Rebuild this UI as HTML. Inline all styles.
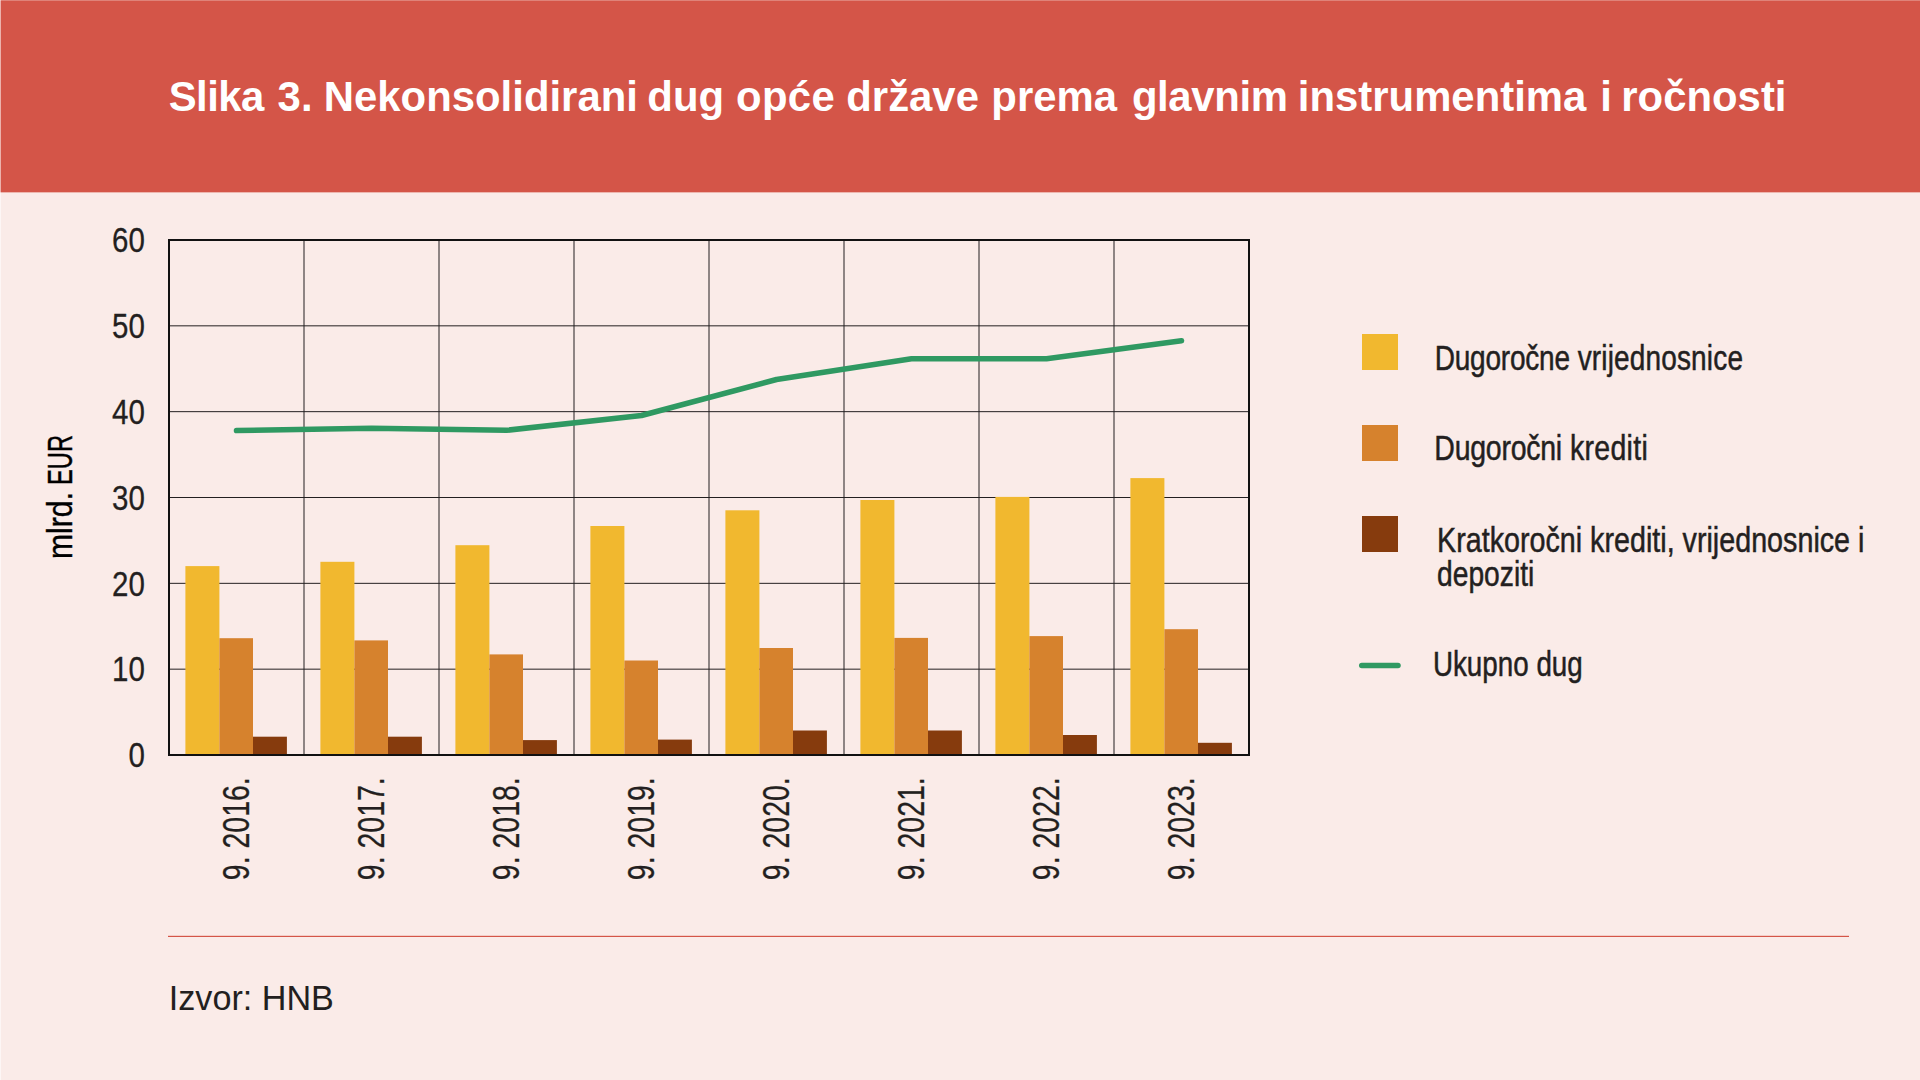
<!DOCTYPE html>
<html lang="hr"><head><meta charset="utf-8"><title>Slika 3</title>
<style>html,body{margin:0;padding:0;background:#faebe8;}body{width:1920px;height:1080px;overflow:hidden;}svg{display:block;}text{font-family:"Liberation Sans",Arial,Helvetica,sans-serif;}</style></head><body>
<svg width="1920" height="1080" viewBox="0 0 1920 1080">
<rect x="0" y="0" width="1920" height="1080" fill="#faebe8"/>
<rect x="0" y="0" width="1920" height="192.35" fill="#d45548"/>
<text id="title" transform="translate(167.9,111) scale(0.974,1)" font-size="43" font-weight="700" fill="#ffffff" xml:space="preserve"><tspan dx="0.82" letter-spacing="-0.53">Slika </tspan><tspan dx="2.67">3. </tspan><tspan dx="-0.41">Nekonsolidirani </tspan><tspan dx="-2.26">dug </tspan><tspan dx="0.21" letter-spacing="0.40">opće </tspan><tspan dx="-1.03">države </tspan><tspan dx="0.82">prema </tspan><tspan dx="3.29" letter-spacing="-0.38">glavnim </tspan><tspan dx="-1.03">instrumentima </tspan><tspan dx="2.26">i </tspan><tspan dx="-2.26">ročnosti</tspan></text>
<g stroke="#231f20" stroke-width="1" fill="none"><line x1="169.00" y1="325.83" x2="1249.00" y2="325.83"/><line x1="169.00" y1="411.67" x2="1249.00" y2="411.67"/><line x1="169.00" y1="497.50" x2="1249.00" y2="497.50"/><line x1="169.00" y1="583.33" x2="1249.00" y2="583.33"/><line x1="169.00" y1="669.17" x2="1249.00" y2="669.17"/><line x1="304.00" y1="240.00" x2="304.00" y2="755.00"/><line x1="439.00" y1="240.00" x2="439.00" y2="755.00"/><line x1="574.00" y1="240.00" x2="574.00" y2="755.00"/><line x1="709.00" y1="240.00" x2="709.00" y2="755.00"/><line x1="844.00" y1="240.00" x2="844.00" y2="755.00"/><line x1="979.00" y1="240.00" x2="979.00" y2="755.00"/><line x1="1114.00" y1="240.00" x2="1114.00" y2="755.00"/></g>
<g><rect x="185.40" y="566.10" width="34.00" height="188.90" fill="#f1b82f"/><rect x="219.40" y="638.20" width="33.60" height="116.80" fill="#d6822d"/><rect x="253.00" y="736.70" width="33.90" height="18.30" fill="#863b0d"/><rect x="320.40" y="561.80" width="34.00" height="193.20" fill="#f1b82f"/><rect x="354.40" y="640.40" width="33.60" height="114.60" fill="#d6822d"/><rect x="388.00" y="736.70" width="33.90" height="18.30" fill="#863b0d"/><rect x="455.40" y="545.20" width="34.00" height="209.80" fill="#f1b82f"/><rect x="489.40" y="654.40" width="33.60" height="100.60" fill="#d6822d"/><rect x="523.00" y="740.10" width="33.90" height="14.90" fill="#863b0d"/><rect x="590.40" y="526.00" width="34.00" height="229.00" fill="#f1b82f"/><rect x="624.40" y="660.50" width="33.60" height="94.50" fill="#d6822d"/><rect x="658.00" y="739.60" width="33.90" height="15.40" fill="#863b0d"/><rect x="725.40" y="510.30" width="34.00" height="244.70" fill="#f1b82f"/><rect x="759.40" y="648.00" width="33.60" height="107.00" fill="#d6822d"/><rect x="793.00" y="730.50" width="33.90" height="24.50" fill="#863b0d"/><rect x="860.40" y="500.00" width="34.00" height="255.00" fill="#f1b82f"/><rect x="894.40" y="637.90" width="33.60" height="117.10" fill="#d6822d"/><rect x="928.00" y="730.50" width="33.90" height="24.50" fill="#863b0d"/><rect x="995.40" y="496.90" width="34.00" height="258.10" fill="#f1b82f"/><rect x="1029.40" y="636.10" width="33.60" height="118.90" fill="#d6822d"/><rect x="1063.00" y="735.00" width="33.90" height="20.00" fill="#863b0d"/><rect x="1130.40" y="478.10" width="34.00" height="276.90" fill="#f1b82f"/><rect x="1164.40" y="629.20" width="33.60" height="125.80" fill="#d6822d"/><rect x="1198.00" y="742.80" width="33.90" height="12.20" fill="#863b0d"/></g>
<rect x="169.0" y="240.0" width="1080.0" height="515.0" fill="none" stroke="#111111" stroke-width="2"/>
<polyline points="236.50,430.60 371.50,428.30 506.50,430.30 641.50,415.50 776.50,379.50 911.50,358.70 1046.50,358.70 1181.50,340.70" fill="none" stroke="#2f9962" stroke-width="5.5" stroke-linecap="round" stroke-linejoin="round"/>
<text class="yl" transform="translate(144.8,767.20) scale(0.819,1)" text-anchor="end" font-size="36" fill="#231f20" stroke="#231f20" stroke-width="0.3">0</text>
<text class="yl" transform="translate(144.8,681.37) scale(0.819,1)" text-anchor="end" font-size="36" fill="#231f20" stroke="#231f20" stroke-width="0.3">10</text>
<text class="yl" transform="translate(144.8,595.53) scale(0.819,1)" text-anchor="end" font-size="36" fill="#231f20" stroke="#231f20" stroke-width="0.3">20</text>
<text class="yl" transform="translate(144.8,509.70) scale(0.819,1)" text-anchor="end" font-size="36" fill="#231f20" stroke="#231f20" stroke-width="0.3">30</text>
<text class="yl" transform="translate(144.8,423.87) scale(0.819,1)" text-anchor="end" font-size="36" fill="#231f20" stroke="#231f20" stroke-width="0.3">40</text>
<text class="yl" transform="translate(144.8,338.03) scale(0.819,1)" text-anchor="end" font-size="36" fill="#231f20" stroke="#231f20" stroke-width="0.3">50</text>
<text class="yl" transform="translate(144.8,252.20) scale(0.819,1)" text-anchor="end" font-size="36" fill="#231f20" stroke="#231f20" stroke-width="0.3">60</text>
<text class="xl" transform="translate(248.70,777.3) rotate(-90) scale(0.780,1)" text-anchor="end" font-size="36.5" fill="#231f20" stroke="#231f20" stroke-width="0.3">9. 2016.</text>
<text class="xl" transform="translate(383.70,777.3) rotate(-90) scale(0.780,1)" text-anchor="end" font-size="36.5" fill="#231f20" stroke="#231f20" stroke-width="0.3">9. 2017.</text>
<text class="xl" transform="translate(518.70,777.3) rotate(-90) scale(0.780,1)" text-anchor="end" font-size="36.5" fill="#231f20" stroke="#231f20" stroke-width="0.3">9. 2018.</text>
<text class="xl" transform="translate(653.70,777.3) rotate(-90) scale(0.780,1)" text-anchor="end" font-size="36.5" fill="#231f20" stroke="#231f20" stroke-width="0.3">9. 2019.</text>
<text class="xl" transform="translate(788.70,777.3) rotate(-90) scale(0.780,1)" text-anchor="end" font-size="36.5" fill="#231f20" stroke="#231f20" stroke-width="0.3">9. 2020.</text>
<text class="xl" transform="translate(923.70,777.3) rotate(-90) scale(0.780,1)" text-anchor="end" font-size="36.5" fill="#231f20" stroke="#231f20" stroke-width="0.3">9. 2021.</text>
<text class="xl" transform="translate(1058.70,777.3) rotate(-90) scale(0.780,1)" text-anchor="end" font-size="36.5" fill="#231f20" stroke="#231f20" stroke-width="0.3">9. 2022.</text>
<text class="xl" transform="translate(1193.70,777.3) rotate(-90) scale(0.780,1)" text-anchor="end" font-size="36.5" fill="#231f20" stroke="#231f20" stroke-width="0.3">9. 2023.</text>
<g id="ytitle" font-size="35" fill="#000000" stroke="#000000" stroke-width="0.4"><text transform="translate(71.7,559.0) rotate(-90) scale(0.862,1)">mlrd.</text><text transform="translate(71.7,435.0) rotate(-90) scale(0.677,1)" text-anchor="end">EUR</text></g>
<rect x="1362" y="334" width="36" height="36" fill="#f1b82f"/>
<rect x="1362" y="425" width="36" height="36" fill="#d6822d"/>
<rect x="1362" y="516" width="36" height="36" fill="#863b0d"/>
<line x1="1361.75" y1="665.4" x2="1398" y2="665.4" stroke="#2f9962" stroke-width="5.5" stroke-linecap="round"/>
<text id="l1" transform="translate(1434.70,369.70) scale(0.800,1)" font-size="35" fill="#231f20" stroke="#231f20" stroke-width="0.5"><tspan letter-spacing="-0.25">Dugoročne</tspan> <tspan letter-spacing="0.2">vrijednosnice</tspan></text>
<text id="l2" transform="translate(1434.30,460.20) scale(0.814,1)" font-size="35" fill="#231f20" stroke="#231f20" stroke-width="0.5"><tspan letter-spacing="-0.3">Dugoročni</tspan> <tspan letter-spacing="0.4">krediti</tspan></text>
<text id="l3a" transform="translate(1437.00,551.90) scale(0.820,1)" font-size="35" fill="#231f20" stroke="#231f20" stroke-width="0.5">Kratkoročni krediti, vrijednosnice i</text>
<text id="l3b" transform="translate(1437.00,586.00) scale(0.807,1)" font-size="35" fill="#231f20" stroke="#231f20" stroke-width="0.5">depoziti</text>
<text id="l4" transform="translate(1432.90,676.40) scale(0.794,1)" font-size="35" fill="#231f20" stroke="#231f20" stroke-width="0.5">Ukupno dug</text>
<rect x="168" y="935.8" width="1681" height="1.2" fill="#d45548"/>
<text id="src" transform="translate(168.8,1010) scale(0.949,1)" font-size="36" fill="#231f20">Izvor: HNB</text>
<rect x="0" y="0" width="1920" height="1" fill="#ffffff" opacity="0.27"/>
<rect x="0" y="0" width="1" height="1080" fill="#ffffff" opacity="0.55"/>
</svg></body></html>
